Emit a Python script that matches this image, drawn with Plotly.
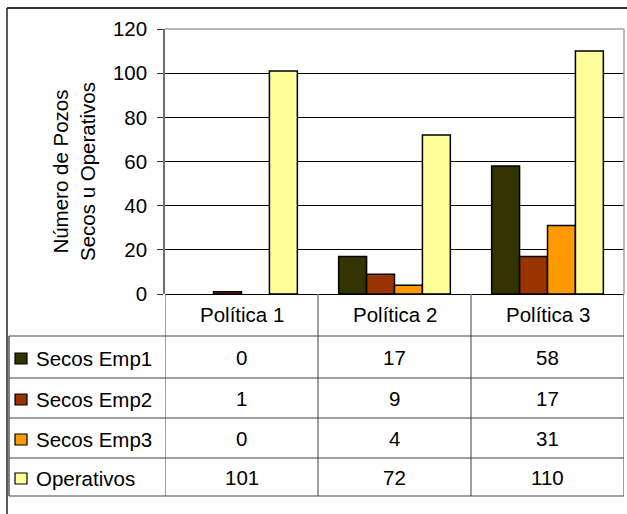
import plotly.graph_objects as go

# ---- data ----
categories = ["Política 1", "Política 2", "Política 3"]
series_names = ["Secos Emp1", "Secos Emp2", "Secos Emp3", "Operativos"]
secos_emp1 = [0, 17, 58]
secos_emp2 = [1, 9, 17]
secos_emp3 = [0, 4, 31]
operativos = [101, 72, 110]
y_ticks = [0, 20, 40, 60, 80, 100, 120]

series_values = [secos_emp1, secos_emp2, secos_emp3, operativos]
series_colors = ["#333300", "#993300", "#FF9900", "#FFFF99"]

W, H = 627, 514
FONT = "Liberation Sans, Arial, sans-serif"
FS = 20.5


def px(x):
    return x / W


def py(y):
    return 1 - y / H


# plot-area geometry (pixels)
PL, PR, PT, PB = 165, 624, 29, 294
TABLE_LEFT, TABLE_BOTTOM = 9, 496
row_lines = [336, 378, 418, 458, 496]

fig = go.Figure()
for name, vals, col in zip(series_names, series_values, series_colors):
    # zero-height bars get no outline so they stay invisible
    fig.add_trace(go.Bar(
        name=name, x=categories, y=vals,
        marker=dict(color=col,
                    line=dict(color="black",
                              width=[1.5 if v else 0 for v in vals])),
        showlegend=False, hoverinfo="x+y+name",
    ))

shapes = []
annotations = []

# outer chart frame (top and left)
shapes.append(dict(type="line", xref="paper", yref="paper",
                   x0=px(7), x1=px(627), y0=py(8), y1=py(8),
                   line=dict(color="#333333", width=2)))
shapes.append(dict(type="line", xref="paper", yref="paper",
                   x0=px(7), x1=px(7), y0=py(8), y1=py(514),
                   line=dict(color="#222222", width=1.5)))

# plot-area border (top and right), light gray
shapes.append(dict(type="line", xref="paper", yref="paper",
                   x0=px(PL), x1=px(PR), y0=py(PT), y1=py(PT),
                   line=dict(color="#A0A0A0", width=1.5), layer="above"))
shapes.append(dict(type="line", xref="paper", yref="paper",
                   x0=px(PR), x1=px(PR), y0=py(PT), y1=py(PB),
                   line=dict(color="#A0A0A0", width=1.5), layer="above"))

# data table: vertical dividers follow the category boundaries
n = len(categories)
for k in range(n + 1):
    xv = k - 0.5
    shapes.append(dict(type="line", xref="x", yref="paper",
                       x0=xv, x1=xv, y0=py(PB), y1=py(TABLE_BOTTOM),
                       line=dict(color="#7F7F7F", width=1.5)))
# left border of the legend column
shapes.append(dict(type="line", xref="paper", yref="paper",
                   x0=px(TABLE_LEFT), x1=px(TABLE_LEFT),
                   y0=py(row_lines[0]), y1=py(TABLE_BOTTOM),
                   line=dict(color="#555555", width=1.5)))
# horizontal rules
for yl in row_lines:
    shapes.append(dict(type="line", xref="paper", yref="paper",
                       x0=px(TABLE_LEFT), x1=px(PR), y0=py(yl), y1=py(yl),
                       line=dict(color="#444444", width=1.2)))

# header row: category names
for cat in categories:
    annotations.append(dict(x=cat, xref="x", y=py(314), yref="paper",
                            text=cat, showarrow=False,
                            font=dict(family=FONT, size=FS, color="black"),
                            xanchor="center", yanchor="middle"))

# body rows: legend key, series name, values
for i, (name, vals, col) in enumerate(zip(series_names, series_values, series_colors)):
    yc = (row_lines[i] + row_lines[i + 1]) / 2
    shapes.append(dict(type="rect", xref="paper", yref="paper",
                       x0=px(15), x1=px(27), y0=py(yc - 4), y1=py(yc + 7),
                       fillcolor=col, line=dict(color="black", width=1.2)))
    annotations.append(dict(x=px(34), xref="paper", y=py(yc + 1), yref="paper",
                            text=name, showarrow=False,
                            font=dict(family=FONT, size=FS, color="black"),
                            xanchor="left", yanchor="middle"))
    for cat, v in zip(categories, vals):
        annotations.append(dict(x=cat, xref="x", y=py(yc), yref="paper",
                                text=str(v), showarrow=False,
                                font=dict(family=FONT, size=FS, color="black"),
                                xanchor="center", yanchor="middle"))

# y-axis title
annotations.append(dict(x=px(74), xref="paper", y=py(172), yref="paper",
                        text="Número de Pozos<br>Secos u Operativos",
                        textangle=-90, showarrow=False,
                        font=dict(family=FONT, size=FS, color="black"),
                        xanchor="center", yanchor="middle"))

fig.update_layout(
    template="none",
    width=W, height=H,
    margin=dict(l=0, r=0, t=0, b=0, pad=0),
    paper_bgcolor="white", plot_bgcolor="white",
    barmode="group", bargap=0.27, bargroupgap=0,
    xaxis=dict(domain=[px(PL), px(PR)], showticklabels=False, ticks="",
               showgrid=False, zeroline=False, showline=False,
               automargin=False, range=[-0.5, n - 0.5], fixedrange=True),
    yaxis=dict(domain=[py(PB), py(PT)], range=[0, 120], automargin=False,
               tickvals=y_ticks, ticks="outside", ticklen=6, tickwidth=1.2,
               tickcolor="#333333", showline=True, linecolor="#6E6E6E",
               linewidth=1.5, showgrid=True, gridcolor="black", gridwidth=1,
               zeroline=True, zerolinecolor="black", zerolinewidth=1.2,
               tickfont=dict(family=FONT, size=FS, color="black"),
               ticklabelstandoff=6, fixedrange=True),
    shapes=shapes, annotations=annotations,
    font=dict(family=FONT, size=FS, color="black"),
)

fig.write_html("out.html")
